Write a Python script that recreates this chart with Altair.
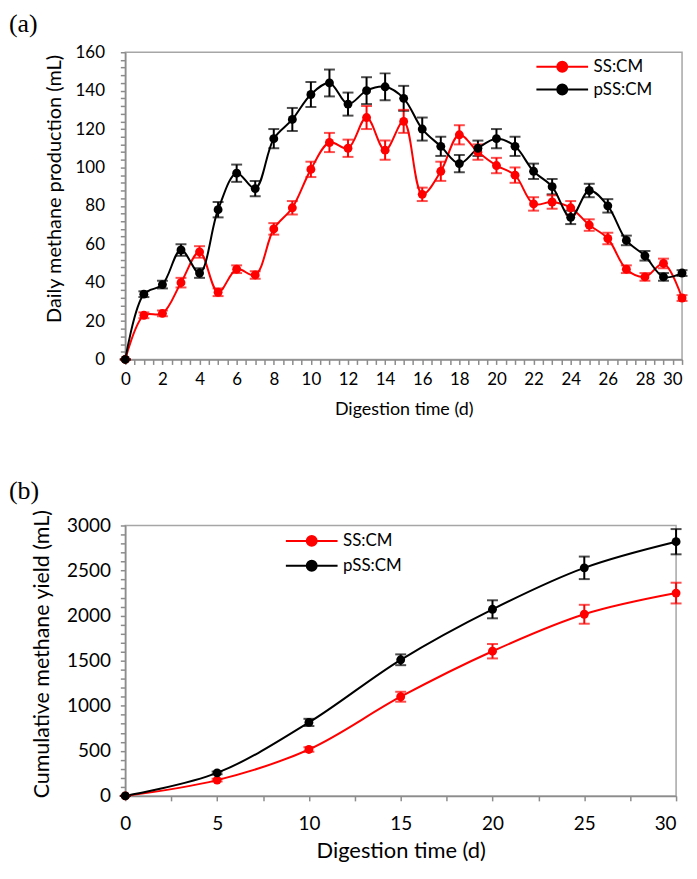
import altair as alt
import pandas as pd

# ---------------- data ----------------
series_names = ["SS:CM", "pSS:CM"]
colors = ["#ff0000", "#000000"]

days_a = list(range(0, 31))
ss_daily = [0, 23, 24, 40, 56, 35, 47, 44, 68, 79, 99, 113, 110, 126, 109, 124,
            86, 98, 117, 108, 101, 96, 81, 82, 79, 70, 63, 47, 43, 50, 32]
ss_daily_err = [0, 1.5, 1.5, 2.5, 3, 2, 2, 2, 3, 3.5, 4, 5, 4.5, 6, 5, 6,
                3.5, 5, 5, 4, 4, 4, 3.5, 3.5, 3.5, 3, 3, 2, 2, 2.5, 1.5]
pss_daily = [0, 34, 39, 57, 45, 78, 97, 89, 115, 125, 138, 144, 133, 140, 142, 136,
             120, 111, 102, 110, 115, 111, 98, 90, 74, 88, 80, 62, 54, 43, 45]
pss_daily_err = [0, 1.5, 2, 3, 2.5, 4, 4.5, 4, 5, 6, 6.5, 7, 6, 7, 7, 6.5,
                 6, 5, 4.5, 4, 5, 5, 4, 4, 3.5, 3.5, 3.5, 2.5, 2.5, 2, 1.5]

days_b = [0, 5, 10, 15, 20, 25, 30]
ss_cum = [0, 175, 515, 1100, 1605, 2015, 2250]
ss_cum_err = [0, 15, 25, 55, 80, 105, 115]
pss_cum = [0, 255, 815, 1510, 2070, 2530, 2820]
pss_cum_err = [0, 15, 40, 60, 100, 125, 140]

x_title = "Digestion time (d)"
ya_title = "Daily methane production (mL)"
yb_title = "Cumulative methane yield (mL)"
panel_tags = ["(a)", "(b)"]


def build(days, a, ae, b, be):
    rows = []
    for d, v, e in zip(days, a, ae):
        rows.append({"day": d, "value": v, "lo": v - e, "hi": v + e, "series": series_names[0]})
    for d, v, e in zip(days, b, be):
        rows.append({"day": d, "value": v, "lo": v - e, "hi": v + e, "series": series_names[1]})
    return pd.DataFrame(rows)


df_a = build(days_a, ss_daily, ss_daily_err, pss_daily, pss_daily_err)
df_b = build(days_b, ss_cum, ss_cum_err, pss_cum, pss_cum_err)

FONT = "Lato"
SYMBOL = "M-5.2,0H5.2M-1,0A1,1 0 1,0 1,0A1,1 0 1,0 -1,0Z"
fill_sig = "datum.value === 'SS:CM' ? '#ff0000' : '#000000'"


def legend(lx, ly, rowpad):
    return alt.Legend(
        title=None, orient="none", legendX=lx, legendY=ly,
        symbolType=SYMBOL, symbolSize=100, symbolStrokeWidth=2,
        symbolFillColor={"expr": fill_sig},
        symbolStrokeColor={"expr": fill_sig},
        symbolOpacity=1,
        labelFont=FONT, labelFontSize=17, labelColor="black",
        labelOffset=23, rowPadding=rowpad,
    )


def panel(df, tag, tag_y, xvals, xlabel_step, yvals, ylabel_step, ydom, w, h,
          leg, xlabsize, xtitlesize, xlabpad, xtitlepad, ylabsize, ylabpad,
          ytitle, ytitlesize, ytitle_x, ytitle_y):
    col = alt.Color("series:N", scale=alt.Scale(domain=series_names, range=colors),
                    legend=leg)
    xscale = alt.Scale(domain=[0, 30], nice=False)
    yscale = alt.Scale(domain=ydom, nice=False)
    xaxis = alt.Axis(values=xvals, title=x_title,
                     labelExpr=f"datum.value % {xlabel_step} === 0 ? format(datum.value, 'd') : ''",
                     labelAlign={"condition": {"test": "datum.value === 30", "value": "right"},
                                 "value": "center"},
                     labelFontSize=xlabsize, titleFontSize=xtitlesize,
                     labelPadding=xlabpad, titlePadding=xtitlepad,
                     labelOverlap=False, labelFlush=False)
    yaxis = alt.Axis(values=yvals, title=ytitle,
                     labelExpr=f"datum.value % {ylabel_step} === 0 ? format(datum.value, 'd') : ''",
                     labelFontSize=ylabsize, titleFontSize=ytitlesize,
                     titleX=ytitle_x, titleY=ytitle_y, labelPadding=ylabpad,
                     labelOverlap=False, labelFlush=False)
    x = alt.X("day:Q", scale=xscale, axis=xaxis)

    def Y(field):
        return alt.Y(f"{field}:Q", scale=yscale, axis=yaxis)

    base = alt.Chart(df)
    rule = base.mark_rule(strokeWidth=2).encode(x=x, y=Y("lo"), y2="hi:Q", color=col)
    cap_lo = base.mark_tick(orient="horizontal", size=11, thickness=2).encode(
        x=x, y=Y("lo"), color=col)
    cap_hi = base.mark_tick(orient="horizontal", size=11, thickness=2).encode(
        x=x, y=Y("hi"), color=col)
    line = base.mark_line(strokeWidth=2, interpolate="catmull-rom").encode(
        x=x, y=Y("value"), color=col, detail="series:N")
    pts = base.mark_circle(size=80, opacity=1).encode(x=x, y=Y("value"), color=col)
    tag_layer = alt.Chart(pd.DataFrame({"t": [tag]})).mark_text(
        align="left", baseline="middle", font="Liberation Serif", fontSize=26,
        color="black").encode(x=alt.value(-117), y=alt.value(tag_y), text="t:N")
    return alt.layer(rule, cap_lo, cap_hi, line, pts, tag_layer).properties(
        width=w, height=h)


top = panel(df_a, panel_tags[0], -28, [i * 0.5 for i in range(61)], 2,
            list(range(0, 161, 4)), 20, [0, 160], 560, 309, legend(431, 6, 4),
            17, 18, 7, 13, 17, 16, ya_title, 20, -61, 137)
bottom = panel(df_b, panel_tags[1], -35, [i * 2.5 for i in range(13)], 5,
               list(range(0, 3001, 100)), 500, [0, 3000], 554, 272, legend(179, 7, 6),
               19, 22, 14, 7, 19, 10, yb_title, 21.5, -72, 129)

chart = alt.vconcat(top, bottom, spacing=58).resolve_scale(
    color="independent").resolve_legend(color="independent").properties(
    padding={"left": 0, "top": 0, "right": 0, "bottom": 0}
).configure_axis(
    grid=False, domainColor="#8c8c8c", tickColor="#8c8c8c", domainWidth=1.5,
    tickWidth=1.5, tickSize=5, labelFont=FONT, titleFont=FONT,
    labelColor="black", titleColor="black", titleFontWeight="normal",
).configure_view(stroke="#a6a6a6", strokeWidth=1.5)

chart.save("out.html", embed_options={"renderer": "svg", "actions": False})
